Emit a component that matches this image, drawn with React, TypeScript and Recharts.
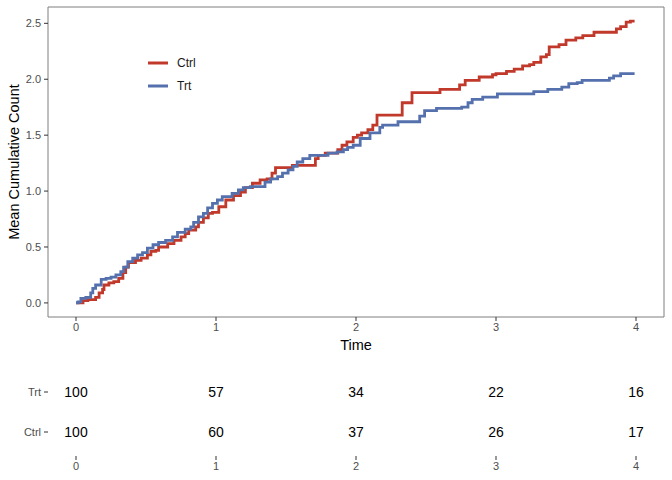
import React from "react";
import { LineChart, Line, XAxis, YAxis, ReferenceArea, ScatterChart, Scatter, Label } from "recharts";

// mean cumulative function
const ctrlTime = [0, 0.05, 0.085, 0.14, 0.165, 0.19, 0.2, 0.235, 0.27, 0.305, 0.335, 0.355, 0.375, 0.425, 0.465, 0.51, 0.535, 0.57, 0.59, 0.655, 0.7, 0.75, 0.78, 0.805, 0.855, 0.875, 0.91, 0.945, 0.975, 1.02, 1.07, 1.125, 1.175, 1.21, 1.26, 1.315, 1.365, 1.4, 1.425, 1.545, 1.71, 1.73, 1.78, 1.87, 1.9, 1.935, 1.98, 2.01, 2.04, 2.085, 2.12, 2.15, 2.33, 2.4, 2.6, 2.74, 2.78, 2.88, 2.975, 3.0, 3.075, 3.13, 3.19, 3.24, 3.27, 3.32, 3.36, 3.38, 3.45, 3.5, 3.57, 3.62, 3.7, 3.86, 3.89, 3.93, 3.96, 3.99];
const ctrlMcf = [0, 0.02, 0.03, 0.05, 0.09, 0.12, 0.16, 0.18, 0.19, 0.22, 0.27, 0.32, 0.36, 0.38, 0.4, 0.43, 0.46, 0.47, 0.5, 0.53, 0.56, 0.59, 0.62, 0.65, 0.68, 0.72, 0.76, 0.8, 0.81, 0.86, 0.92, 0.96, 0.99, 1.03, 1.07, 1.1, 1.11, 1.16, 1.21, 1.23, 1.29, 1.32, 1.34, 1.37, 1.41, 1.44, 1.48, 1.5, 1.52, 1.55, 1.59, 1.68, 1.79, 1.88, 1.91, 1.95, 1.99, 2.02, 2.04, 2.05, 2.07, 2.09, 2.12, 2.13, 2.15, 2.2, 2.22, 2.29, 2.31, 2.35, 2.37, 2.39, 2.42, 2.45, 2.47, 2.51, 2.52, 2.52];
const trtTime = [0, 0.015, 0.035, 0.07, 0.105, 0.12, 0.14, 0.18, 0.215, 0.25, 0.285, 0.32, 0.34, 0.37, 0.405, 0.44, 0.475, 0.51, 0.55, 0.59, 0.64, 0.69, 0.725, 0.78, 0.82, 0.84, 0.875, 0.91, 0.94, 0.975, 1.01, 1.045, 1.115, 1.16, 1.195, 1.245, 1.35, 1.39, 1.44, 1.475, 1.515, 1.55, 1.58, 1.62, 1.67, 1.8, 1.865, 1.91, 1.94, 1.98, 2.03, 2.1, 2.17, 2.19, 2.3, 2.455, 2.49, 2.575, 2.755, 2.8, 2.83, 2.905, 3.01, 3.27, 3.37, 3.47, 3.52, 3.58, 3.615, 3.81, 3.84, 3.89, 3.99];
const trtMcf = [0, 0.01, 0.04, 0.05, 0.09, 0.13, 0.16, 0.21, 0.22, 0.23, 0.25, 0.28, 0.32, 0.37, 0.4, 0.43, 0.45, 0.49, 0.52, 0.54, 0.56, 0.59, 0.63, 0.66, 0.68, 0.72, 0.77, 0.8, 0.85, 0.89, 0.92, 0.95, 0.98, 1.01, 1.03, 1.04, 1.08, 1.11, 1.13, 1.16, 1.19, 1.22, 1.26, 1.29, 1.32, 1.34, 1.35, 1.37, 1.39, 1.41, 1.47, 1.52, 1.57, 1.59, 1.62, 1.67, 1.72, 1.74, 1.75, 1.79, 1.82, 1.84, 1.87, 1.89, 1.91, 1.93, 1.96, 1.97, 1.99, 2.01, 2.03, 2.05, 2.05];

// number at risk table
const tableTimes = [0, 1, 2, 3, 4];
const trtAtRisk = [100, 57, 34, 22, 16];
const ctrlAtRisk = [100, 60, 37, 26, 17];
const rowNames = ["Ctrl", "Trt"];

const xTicks = [0, 1, 2, 3, 4];
const yTicks = [0, 0.5, 1, 1.5, 2, 2.5];

const CTRL = "#C0392B";
const TRT = "#5470AD";
const FONT = "'Liberation Sans', Arial, sans-serif";
const X_DOMAIN: [number, number] = [-0.2, 4.2];
const Y_DOMAIN: [number, number] = [-0.126, 2.646];

const ctrlData = ctrlTime.map((t, i) => ({ time: t, mcf: ctrlMcf[i] }));
const trtData = trtTime.map((t, i) => ({ time: t, mcf: trtMcf[i] }));
const trtRow = tableTimes.map((t, i) => ({ time: t, row: 2, n: trtAtRisk[i] }));
const ctrlRow = tableTimes.map((t, i) => ({ time: t, row: 1, n: ctrlAtRisk[i] }));

const tickStyle = { fill: "#4d4d4d", fontSize: 11, fontFamily: FONT };

const legendItems = [
  { name: "Ctrl", color: CTRL },
  { name: "Trt", color: TRT },
];

const LegendBox = () => (
  <div style={{ position: "absolute", left: 148, top: 51, fontFamily: FONT, fontSize: 12, color: "#1a1a1a" }}>
    {legendItems.map((it) => (
      <div key={it.name} style={{ display: "flex", alignItems: "center", height: 23 }}>
        <svg width={20} height={6} style={{ marginRight: 9 }}>
          <line x1={0} y1={3} x2={20} y2={3} stroke={it.color} strokeWidth={3} />
        </svg>
        <span>{it.name}</span>
      </div>
    ))}
  </div>
);

const CountShape = (props: any) => (
  <text
    x={props.cx}
    y={props.cy}
    textAnchor="middle"
    dominantBaseline="central"
    fontSize={14}
    fontFamily={FONT}
    fill="#000"
  >
    {props.payload.n}
  </text>
);

export default function App() {
  return (
    <div style={{ width: 672, height: 480, position: "relative", background: "#fff", fontFamily: FONT }}>
      <style>{`body{margin:0}`}</style>
      <LineChart width={672} height={360} margin={{ top: 7, right: 8, left: 0, bottom: 0 }}>
        <XAxis
          type="number"
          dataKey="time"
          domain={X_DOMAIN}
          ticks={xTicks}
          allowDataOverflow
          axisLine={false}
          tickLine={{ stroke: "#333" }}
          tickSize={4}
          tickMargin={2}
          tick={tickStyle}
          height={43}
        >
          <Label
            content={({ viewBox }: any) => (
              <text
                x={viewBox.x + viewBox.width / 2}
                y={viewBox.y + 33}
                textAnchor="middle"
                fontSize={14.5}
                fontFamily={FONT}
                fill="#000"
              >
                Time
              </text>
            )}
          />
        </XAxis>
        <YAxis
          type="number"
          domain={Y_DOMAIN}
          ticks={yTicks}
          allowDataOverflow
          axisLine={false}
          tickLine={{ stroke: "#333" }}
          tickSize={4}
          tickMargin={3}
          tick={tickStyle}
          tickFormatter={(v: number) => v.toFixed(1)}
          width={48}
        >
          <Label
            content={({ viewBox }: any) => {
              const cx = viewBox.x + 14;
              const cy = viewBox.y + viewBox.height / 2;
              return (
                <text
                  x={cx}
                  y={cy}
                  transform={`rotate(-90, ${cx}, ${cy})`}
                  textAnchor="middle"
                  dominantBaseline="central"
                  fontSize={14.5}
                  fontFamily={FONT}
                  fill="#000"
                >
                  Mean Cumulative Count
                </text>
              );
            }}
          />
        </YAxis>
        <ReferenceArea
          x1={X_DOMAIN[0]}
          x2={X_DOMAIN[1]}
          y1={Y_DOMAIN[0]}
          y2={Y_DOMAIN[1]}
          fill="none"
          fillOpacity={0}
          stroke="#7f7f7f"
          strokeWidth={1}
        />
        <Line
          data={ctrlData}
          dataKey="mcf"
          name="Ctrl"
          type="stepAfter"
          stroke={CTRL}
          strokeWidth={2.8}
          dot={false}
          isAnimationActive={false}
        />
        <Line
          data={trtData}
          dataKey="mcf"
          name="Trt"
          type="stepAfter"
          stroke={TRT}
          strokeWidth={2.8}
          dot={false}
          isAnimationActive={false}
        />
      </LineChart>
      <LegendBox />
      <div style={{ position: "absolute", left: 0, top: 360 }}>
        <ScatterChart width={672} height={120} margin={{ top: 8, right: 8, left: 0, bottom: 0 }}>
          <XAxis
            type="number"
            dataKey="time"
            domain={X_DOMAIN}
            ticks={xTicks}
            allowDataOverflow
            axisLine={false}
            tickLine={{ stroke: "#333" }}
            tickSize={4}
            tickMargin={2}
            tick={tickStyle}
            height={24}
          />
          <YAxis
            type="number"
            dataKey="row"
            domain={[0.4, 2.6]}
            ticks={[1, 2]}
            allowDataOverflow
            axisLine={false}
            tickLine={{ stroke: "#333" }}
            tickSize={4}
            tickMargin={3}
            tick={tickStyle}
            tickFormatter={(v: number) => rowNames[v - 1]}
            width={48}
          />
          <Scatter data={trtRow} dataKey="row" shape={<CountShape />} isAnimationActive={false} />
          <Scatter data={ctrlRow} dataKey="row" shape={<CountShape />} isAnimationActive={false} />
        </ScatterChart>
      </div>
    </div>
  );
}
